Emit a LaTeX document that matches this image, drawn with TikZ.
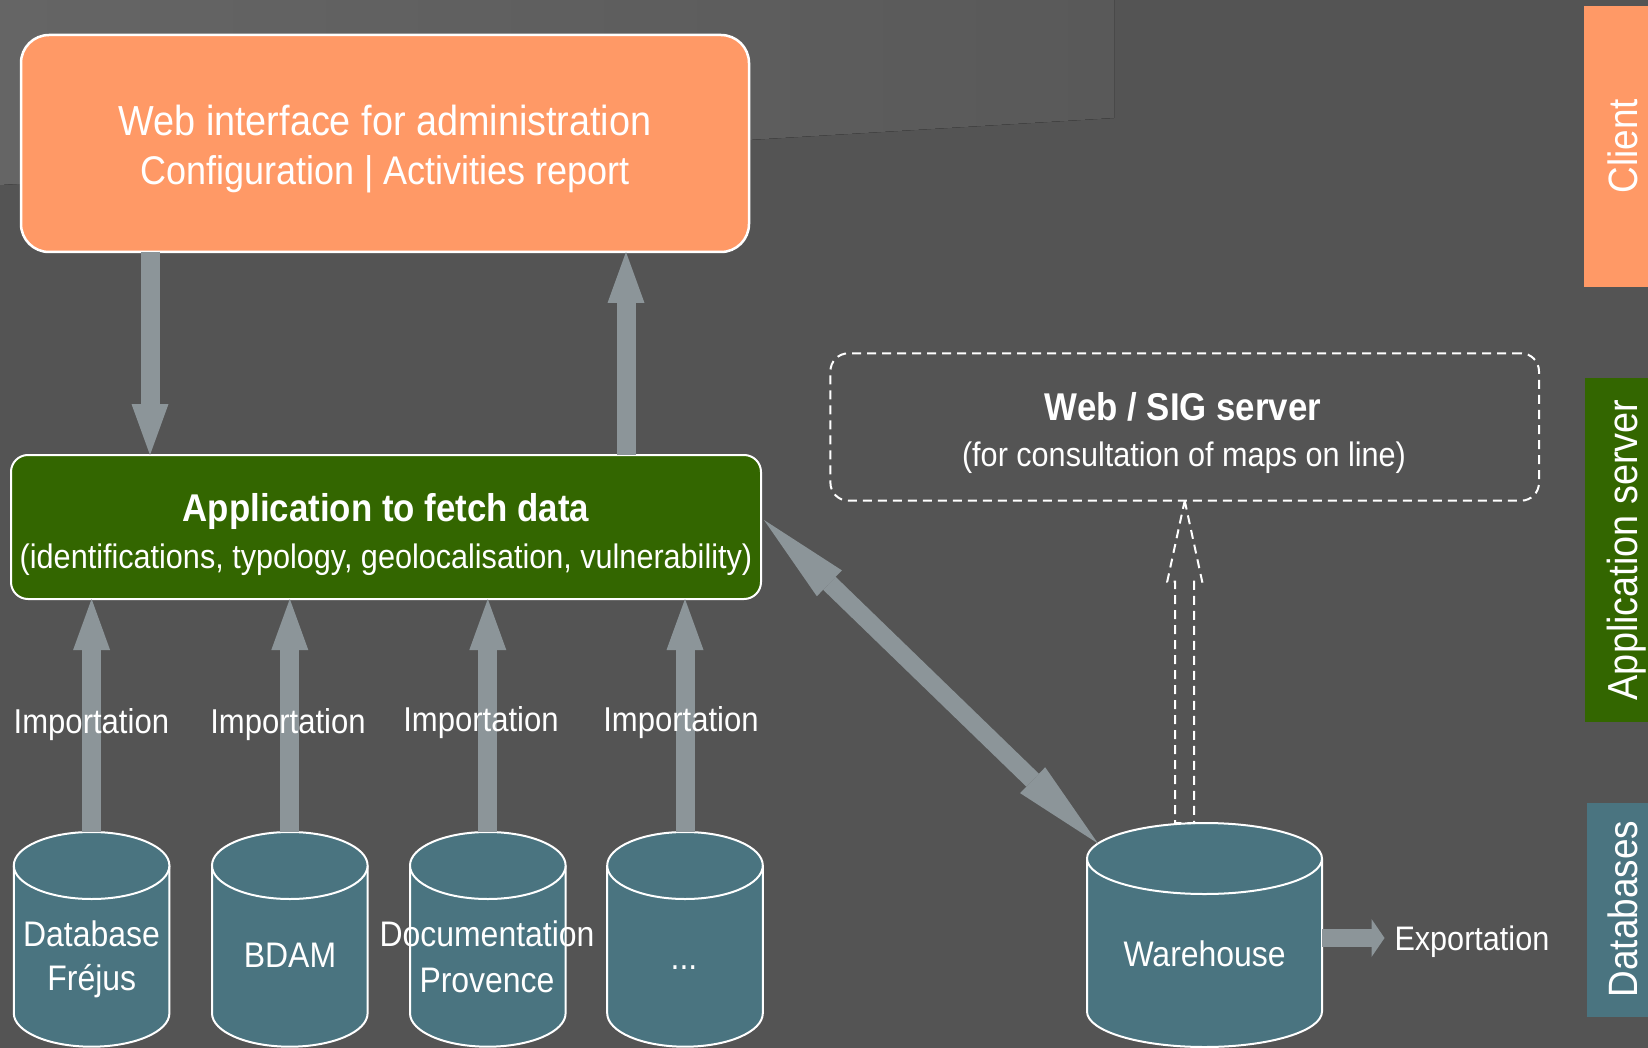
\documentclass[tikz,border=0pt]{standalone}
\usepackage{fontspec}
\setmainfont{Liberation Sans}[FakeStretch=0.9]
\usetikzlibrary{arrows.meta,calc}

\definecolor{bgdark}{HTML}{545454}
\definecolor{bglight}{HTML}{656565}
\definecolor{bgmid}{HTML}{595959}
\definecolor{clientorange}{HTML}{FF9966}
\definecolor{servergreen}{HTML}{336600}
\definecolor{dbteal}{HTML}{4A7480}
\definecolor{flowgray}{HTML}{8C9599}

% database cylinder: #1 name, #2 centre x, #3 y of top ellipse centre,
% #4 y of bottom ellipse centre, #5 x radius, #6 y radius
\newcommand\dbcylinder[6]{%
  \fill[dbteal] (#2-#5,#3) -- (#2-#5,#4)
    arc[start angle=180,end angle=360,x radius=#5pt,y radius=#6pt]
    -- (#2+#5,#3) -- cycle;
  \draw[cylline] (#2-#5,#3) -- (#2-#5,#4)
    arc[start angle=180,end angle=360,x radius=#5pt,y radius=#6pt]
    -- (#2+#5,#3);
  \draw[cylline,fill=dbteal] (#2,#3) ellipse[x radius=#5pt,y radius=#6pt];
  \node[minimum width={2*#5*1pt},minimum height={(#4-#3+2*#6)*1pt}]
    (#1) at (#2,{(#3+#4)/2}) {};
}

\begin{document}
\begin{tikzpicture}[x=1pt,y=-1pt,
  every node/.style={inner sep=0pt,outer sep=0pt},
  panel/.style={draw=white,line width=2.5pt},
  cylline/.style={draw=white,line width=2pt},
  bigtxt/.style={text=white,anchor=base,font=\fontsize{41}{48}\selectfont},
  ttltxt/.style={text=white,anchor=base,font=\bfseries\fontsize{38.7}{46}\selectfont},
  subtxt/.style={text=white,anchor=base,font=\fontsize{34}{40}\selectfont},
  imptxt/.style={text=white,anchor=base,font=\fontsize{34.5}{40}\selectfont},
  dbtxt/.style={text=white,anchor=base,font=\fontsize{35.5}{42}\selectfont},
  sidetxt/.style={text=white,anchor=base,rotate=90,font=\fontsize{41}{48}\selectfont},
  flow/.style={draw=flowgray,line width=19pt,
    -{Triangle[length=51pt,width=37pt,line width=0pt]}},
  dflow/.style={draw=flowgray,line width=18pt,
    {Triangle[length=91pt,width=36pt,line width=0pt]}-{Triangle[length=91pt,width=36pt,line width=0pt]}},
  xflow/.style={draw=flowgray,line width=18pt,
    -{Triangle[length=13pt,width=38pt,line width=0pt]}},
  dashline/.style={draw=white,line width=2pt,dash pattern=on 9pt off 6pt}]

% background
\useasboundingbox (0,0) rectangle (1648,1048);
\fill[bgdark] (0,0) rectangle (1648,1048);
\fill[left color=bglight,right color=bgmid] (0,0) -- (1114,0) -- (1114,118) -- (0,185) -- cycle;

% layer bars on the right edge
\fill[clientorange] (1584,6) rectangle (1648,287);
\fill[servergreen] (1585,378) rectangle (1648,722);
\fill[dbteal] (1587,803) rectangle (1648,1017);
\node[sidetxt] (lblclient) at (1637,146) {Client};
\node[sidetxt,font=\fontsize{42}{48}\selectfont] (lblserver) at (1637,550) {Application server};
\node[sidetxt] (lbldb) at (1637,909) {Databases};

% main boxes
\node[panel,fill=clientorange,rounded corners=28pt,minimum width=728pt,minimum height=217pt]
  (admin) at (385,143.5) {};
\node[bigtxt,font=\fontsize{42}{48}\selectfont] (admin1) at (385,136) {Web interface for administration};
\node[bigtxt,font=\fontsize{40}{48}\selectfont] (admin2) at (385,184.3) {Configuration | Activities report};

\node[panel,fill=servergreen,line width=2pt,rounded corners=17pt,minimum width=750pt,minimum height=144pt]
  (fetch) at (386,527) {};
\node[ttltxt] (fetch1) at (386,521.7) {Application to fetch data};
\node[subtxt] (fetch2) at (386,568.3) {(identifications, typology, geolocalisation, vulnerability)};

\node[dashline,rounded corners=18pt,minimum width=708.6pt,minimum height=147.4pt]
  (websig) at (1184.7,427) {};
\node[ttltxt] (websig1) at (1183,420) {Web / SIG server};
\node[subtxt] (websig2) at (1184,466) {(for consultation of maps on line)};

% databases
\dbcylinder{db1}{91.6}{865.5}{1013.2}{77.8}{33.5}
\dbcylinder{db2}{289.8}{865.5}{1013.2}{77.8}{33.5}
\dbcylinder{db3}{487.8}{865.5}{1013.2}{77.8}{33.5}
\dbcylinder{db4}{685}{865.5}{1013.2}{77.8}{33.5}
\dbcylinder{wh}{1204.5}{858.5}{1011.5}{117.5}{35.5}
\coordinate (whTop) at (1204.5,858.5);

\node[dbtxt] (db1a) at (91.5,946) {Database};
\node[dbtxt] (db1b) at (91.8,990.7) {Fréjus};
\node[dbtxt] (db2a) at (290,967.3) {BDAM};
\node[dbtxt] (db3a) at (487,946.7) {Documentation};
\node[dbtxt] (db3b) at (487,992.7) {Provence};
\node[dbtxt] (db4a) at (684,969) {...};
\node[dbtxt] (wha) at (1204.6,966.7) {Warehouse};

% flows between admin interface and fetch application
\draw[flow] ([xshift=129pt]admin.south west) -- ([xshift=129pt]admin.south west |- fetch.north);
\draw[flow] ([xshift=-135pt]fetch.north east) -- ([xshift=-135pt]fetch.north east |- admin.south);

% imports from each database
\foreach \d in {db1,db2,db3,db4}
  \draw[flow] (\d.north) -- (\d.north |- fetch.south);

\node[imptxt] (imp1) at (91.4,733) {Importation};
\node[imptxt] (imp2) at (288,733) {Importation};
\node[imptxt] (imp3) at (481,731) {Importation};
\node[imptxt] (imp4) at (681,731) {Importation};

% exchange between fetch application and warehouse
\draw[dflow] ([shift={(3pt,7pt)}]fetch.east) -- ($(whTop)+(155:117.5pt and 35.5pt)$);

% warehouse export
\node[subtxt,anchor=base west] (export) at (1394.5,950.7) {Exportation};
\draw[xflow] ([yshift=-3pt]wh.east) -- ([xshift=-10pt,yshift=-3pt]wh.east -| export.west);

% planned link from warehouse to the map server
\coordinate (sigTip) at (websig.south);
\draw[dashline,line join=miter]
  (sigTip) -- ($(sigTip)+(17.5pt,-81pt)$) -- ($(sigTip)+(9.5pt,-81pt)$)
  -- ($(sigTip |- wh.north)+(9.5pt,0)$) -- ($(sigTip |- wh.north)+(-9.5pt,0)$)
  -- ($(sigTip)+(-9.5pt,-81pt)$) -- ($(sigTip)+(-17.5pt,-81pt)$) -- cycle;
\end{tikzpicture}
\end{document}
